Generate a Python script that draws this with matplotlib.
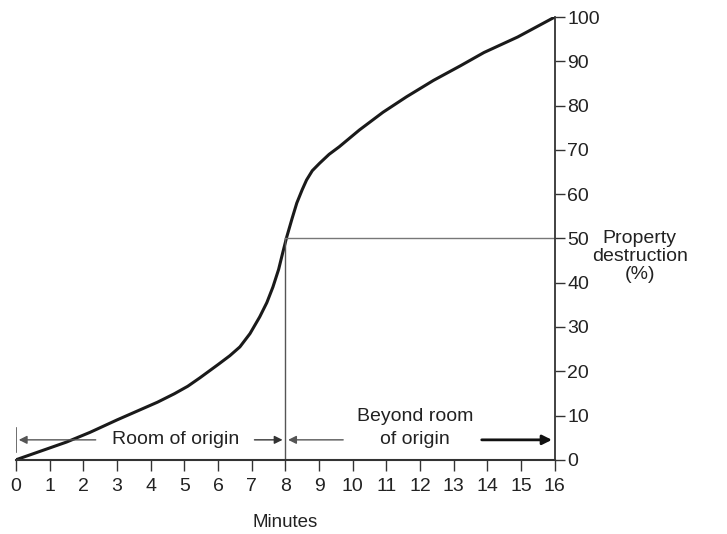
import numpy as np
import matplotlib
matplotlib.use("Agg")
import matplotlib.pyplot as plt

plt.rcParams['font.family'] = ['Liberation Sans', 'DejaVu Sans']

# curve (minutes, % destroyed)
minutes = [0, 0.75, 1.5, 2.2, 3, 3.6, 4.2, 4.7, 5.1, 5.46, 6.0, 6.35, 6.65, 6.95, 7.24,
           7.45, 7.63, 7.8, 7.92, 8.04, 8.2, 8.34, 8.5, 8.63, 8.8, 9.02, 9.3, 9.6,
           10.2, 10.9, 11.6, 12.4, 13.2, 13.9, 14.9, 16]
destruction = [0, 2, 4, 6.2, 9, 11, 13, 14.9, 16.6, 18.5, 21.5, 23.5, 25.5, 28.5, 32.3,
               35.5, 39, 43, 46.7, 50.3, 54.5, 58, 61, 63.2, 65.3, 67, 69, 70.7,
               74.5, 78.5, 82, 85.7, 89, 92, 95.5, 100]
x_ticks = list(range(0, 17))
y_ticks = list(range(0, 101, 10))

fig = plt.figure(figsize=(7.27, 5.34), dpi=100)
ax = fig.add_axes([0.022, 0.139, 0.741, 0.829])

ax.plot(minutes, destruction, color='#1a1a1a', lw=2.2, solid_capstyle='round',
        solid_joinstyle='round')

# reference lines at 8 min / 50%
ax.plot([8, 8], [0, 50], color='#555555', lw=1)
ax.plot([8, 16], [50, 50], color='#777777', lw=1)

ax.set_xlim(0, 16)
ax.set_ylim(0, 100)

for s in ['top', 'left']:
    ax.spines[s].set_visible(False)
ax.spines['bottom'].set_color('#333333')
ax.spines['right'].set_color('#333333')
ax.spines['bottom'].set_linewidth(1.5)
ax.spines['right'].set_linewidth(1.3)

ax.yaxis.tick_right()
ax.set_xticks(x_ticks)
ax.set_yticks(y_ticks)
ax.tick_params(axis='x', direction='out', length=8, width=1, color='#333333',
               labelsize=14, pad=5, labelcolor='#222222')
ax.tick_params(axis='y', direction='out', length=7, width=1, color='#333333',
               labelsize=14, pad=2, labelcolor='#222222')

ax.set_xlabel('Minutes', fontsize=13.5, color='#222222', labelpad=14)
fig.text(0.88, 0.52, 'Property\ndestruction\n(%)', ha='center', va='center',
         fontsize=14, color='#222222', linespacing=1.1)

# span arrows
ya = 4.5
ax.plot([0, 0], [1.8, 7.2], color='#555555', lw=1.2)
ax.annotate('', xy=(0, ya), xytext=(2.45, ya),
            arrowprops=dict(arrowstyle='-|>', color='#555555', lw=1, mutation_scale=12))
ax.text(4.75, ya, 'Room of origin', ha='center', va='center', fontsize=14, color='#222222')
ax.annotate('', xy=(8, ya), xytext=(7.0, ya),
            arrowprops=dict(arrowstyle='-|>', color='#333333', lw=1, mutation_scale=12))
ax.annotate('', xy=(8, ya), xytext=(9.8, ya),
            arrowprops=dict(arrowstyle='-|>', color='#555555', lw=1, mutation_scale=12))
ax.text(11.85, 9.7, 'Beyond room', ha='center', va='center', fontsize=14, color='#222222')
ax.text(11.85, ya, 'of origin', ha='center', va='center', fontsize=14, color='#222222')
ax.annotate('', xy=(16, ya), xytext=(13.75, ya),
            arrowprops=dict(arrowstyle='-|>', color='#111111', lw=2, mutation_scale=14))

fig.savefig('out.png', dpi=100)
